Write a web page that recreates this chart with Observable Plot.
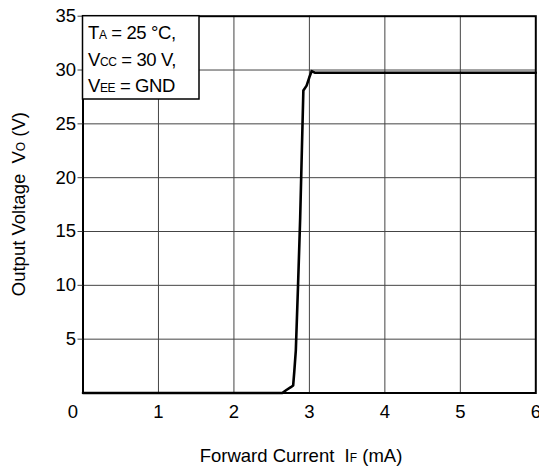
<!DOCTYPE html>
<html>
<head>
<meta charset="utf-8">
<script src="https://cdn.jsdelivr.net/npm/d3@7"></script>
<script src="https://cdn.jsdelivr.net/npm/@observablehq/plot@0.6"></script>
<style>
  html, body { margin: 0; padding: 0; background: white; }
  svg { display: block; }
</style>
</head>
<body>
<div id="chart"></div>
<script>
// Forward current IF (mA)
const currentMA = [0, 2.64, 2.70, 2.754, 2.785, 2.80, 2.82, 2.85, 2.878, 2.90, 2.92, 2.963, 2.998, 3.03, 3.07, 6];
// Output voltage VO (V)
const outputV  = [0, 0,    0.3,  0.54,  0.7,   2.0,  3.95, 10.1, 16.3,  22.5, 28.1, 28.55, 29.3,  29.9, 29.75, 29.75];
const xTicks = [0, 1, 2, 3, 4, 5, 6];
const yTicks = [5, 10, 15, 20, 25, 30, 35];
const legendLines = [
  {main: "T", sub: "A", rest: " = 25 °C,"},
  {main: "V", sub: "CC", rest: " = 30 V,"},
  {main: "V", sub: "EE", rest: " = GND"}
];

const curve = currentMA.map((x, i) => ({x, y: outputV[i]}));
const font = "'Liberation Sans', Arial, sans-serif";

const mL = 82.5, mR = 3.7, mT = 15.7, mB = 74.5, W = 539, H = 467;

const svg = Plot.plot({
  width: W, height: H,
  marginLeft: mL, marginRight: mR, marginTop: mT, marginBottom: mB,
  x: {domain: [0, 6], label: null},
  y: {domain: [0, 35], label: null},
  style: {fontFamily: font, fontSize: "18.5px", color: "black", background: "white", overflow: "visible"},
  marks: [
    Plot.gridX(xTicks.slice(1, -1), {stroke: "#444", strokeOpacity: 1, strokeWidth: 1}),
    Plot.gridY(yTicks.slice(0, -1), {stroke: "#444", strokeOpacity: 1, strokeWidth: 1}),
    Plot.line(curve, {x: "x", y: "y", stroke: "black", strokeWidth: 2.6, curve: "linear"}),
    Plot.frame({stroke: "black", strokeWidth: 2}),
    Plot.axisX([xTicks[0]], {tickSize: 0, tickPadding: 12, dx: -10, label: null}),
    Plot.axisX(xTicks.slice(1), {tickSize: 0, tickPadding: 12, label: null}),
    Plot.axisY(yTicks, {tickSize: 5, tickPadding: 2, stroke: "#444", label: null})
  ]
});

document.getElementById("chart").appendChild(svg);

const s = d3.select(svg);

// Legend box
const lg = s.append("g").attr("text-anchor", "start");
lg.append("rect")
  .attr("x", mL).attr("y", mT)
  .attr("width", 116.5).attr("height", 83.3)
  .attr("fill", "white").attr("stroke", "black").attr("stroke-width", 1.5);
legendLines.forEach((l, i) => {
  const t = lg.append("text")
    .attr("x", mL + 5.5).attr("y", 39 + i * 26.5)
    .attr("text-anchor", "start")
    .attr("font-family", font).attr("font-size", 18.5).attr("fill", "black")
    .attr("letter-spacing", -0.4);
  t.append("tspan").text(l.main);
  t.append("tspan").attr("font-size", 12).text(l.sub);
  t.append("tspan").text(l.rest);
});

// X axis title
const xt = s.append("text")
  .attr("x", 301).attr("y", 462)
  .attr("text-anchor", "middle")
  .attr("font-family", font).attr("font-size", 18.5).attr("fill", "black");
xt.append("tspan").text("Forward Current  I");
xt.append("tspan").attr("font-size", 12).text("F");
xt.append("tspan").text(" (mA)");

// Y axis title
const yt = s.append("text")
  .attr("transform", `translate(25, ${(mT + H - mB) / 2}) rotate(-90)`)
  .attr("text-anchor", "middle")
  .attr("font-family", font).attr("font-size", 18.5).attr("fill", "black");
yt.append("tspan").text("Output Voltage  V");
yt.append("tspan").attr("font-size", 12).text("O");
yt.append("tspan").text(" (V)");
</script>
</body>
</html>
